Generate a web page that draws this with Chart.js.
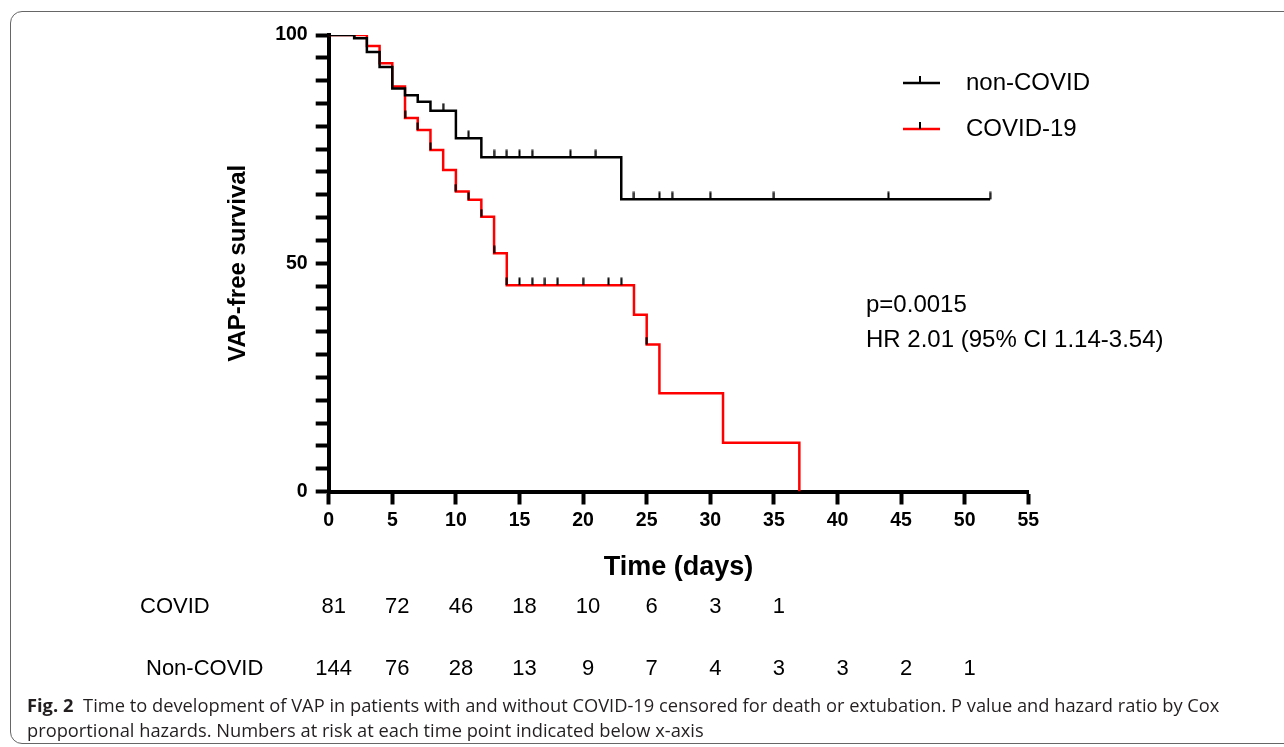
<!DOCTYPE html>
<html>
<head>
    <title>VAP-free survival</title>
    <script src="https://cdn.jsdelivr.net/npm/chart.js"></script>
    <style>
        html, body { margin: 0; padding: 0; background: #fff; }
        body { width: 1284px; height: 747px; position: relative; overflow: hidden; }
        .frame {
            position: absolute; left: 10px; top: 11px; width: 1300px; height: 733px;
            border: 1.3px solid #666; border-radius: 12px; box-sizing: border-box;
        }
        .wrap { position: absolute; left: 0; top: 0; width: 1284px; height: 747px; }
        .caption {
            position: absolute; left: 27px; top: 692px; white-space: nowrap;
            font-family: "Open Sans", sans-serif; font-size: 18.3px; line-height: 25px; color: #231f20;
        }
        .caption b { font-weight: 700; margin-right: 5px; }
    </style>
</head>
<body>
    <div class="frame"></div>
    <div class="wrap"><canvas id="chart"></canvas></div>
    <div class="caption"><b>Fig. 2</b> Time to development of VAP in patients with and without COVID-19 censored for death or extubation. P value and hazard ratio by Cox<br>proportional hazards. Numbers at risk at each time point indicated below x-axis</div>

    <script>
        // curves (Kaplan-Meier steps): day of event, survival after it
        var nonCovidDays = [0, 2, 3, 4, 5, 6, 7, 8, 10, 12, 23, 52];
        var nonCovidSurv = [100, 99.3, 96.3, 93.0, 88.3, 86.8, 85.4, 83.4, 77.4, 73.2, 64.0, 64.0];
        var nonCovidCensor = [2, 9, 11, 13, 14, 15, 16, 19, 21, 24, 26, 27, 30, 35, 44, 52];

        var covidDays = [0, 3, 4, 5, 6, 7, 8, 9, 10, 11, 12, 13, 14, 24, 25, 26, 31, 37];
        var covidSurv = [100, 97.6, 93.8, 88.7, 81.8, 79.2, 74.8, 70.4, 65.7, 63.9, 60.2, 52.2, 45.2, 38.7, 32.2, 21.5, 10.7, 0];
        var covidCensor = [6, 7, 8, 10, 11, 12, 13, 14, 15, 16, 17, 18, 20, 22, 23, 25];

        var seriesLabels = ['non-COVID', 'COVID-19'];

        // numbers at risk
        var riskDays = [0, 5, 10, 15, 20, 25, 30, 35, 40, 45, 50];
        var riskLabels = ['COVID', 'Non-COVID'];
        var covidAtRisk = [81, 72, 46, 18, 10, 6, 3, 1];
        var nonCovidAtRisk = [144, 76, 28, 13, 9, 7, 4, 3, 3, 2, 1];

        var statLines = ['p=0.0015', 'HR 2.01 (95% CI 1.14-3.54)'];

        var FONT = '"Liberation Sans", Arial, sans-serif';

        function toPoints(days, vals) {
            return days.map(function(d, i) { return { x: d, y: vals[i] }; });
        }

        // survival value at a given day from the step curve
        function survAt(days, vals, day) {
            var v = vals[0];
            for (var i = 0; i < days.length; i++) {
                if (days[i] <= day) v = vals[i];
            }
            return v;
        }

        function censorPoints(censor, days, vals) {
            return censor.map(function(d) { return { x: d, y: survAt(days, vals, d) }; });
        }

        // upward tick mark used for censored patients
        function makeTick() {
            var c = document.createElement('canvas');
            c.width = 3; c.height = 16;
            var g = c.getContext('2d');
            g.fillStyle = '#000';
            g.fillRect(0.5, 0.5, 2, 7.5);
            return c;
        }
        var tickImg = makeTick();

        var extras = {
            id: 'extras',
            afterDraw: function(chart) {
                var ctx = chart.ctx;
                var xs = chart.scales.x;
                ctx.save();

                // legend
                var legendY = [83, 129];
                var colors = ['#000000', '#ff0000'];
                for (var i = 0; i < 2; i++) {
                    var y = legendY[i];
                    ctx.strokeStyle = colors[i];
                    ctx.lineWidth = 2.5;
                    ctx.beginPath();
                    ctx.moveTo(903, y); ctx.lineTo(940, y);
                    ctx.stroke();
                    ctx.strokeStyle = '#000';
                    ctx.lineWidth = 2;
                    ctx.beginPath();
                    ctx.moveTo(920, y - 7); ctx.lineTo(920, y);
                    ctx.stroke();
                    ctx.fillStyle = '#000';
                    ctx.font = '24px ' + FONT;
                    ctx.textAlign = 'left';
                    ctx.textBaseline = 'middle';
                    ctx.fillText(seriesLabels[i], 966, y);
                }

                // p value and hazard ratio
                ctx.font = '24px ' + FONT;
                ctx.fillText(statLines[0], 866, 305);
                ctx.fillText(statLines[1], 866, 340);

                // numbers at risk
                ctx.font = '22px ' + FONT;
                ctx.fillText(riskLabels[0], 140, 607);
                ctx.fillText(riskLabels[1], 146, 669);
                ctx.textAlign = 'center';
                covidAtRisk.forEach(function(n, i) {
                    ctx.fillText(String(n), xs.getPixelForValue(riskDays[i]) + 5, 607);
                });
                nonCovidAtRisk.forEach(function(n, i) {
                    ctx.fillText(String(n), xs.getPixelForValue(riskDays[i]) + 5, 669);
                });
                ctx.restore();
            }
        };

        var ctx = document.getElementById('chart').getContext('2d');
        var chart = new Chart(ctx, {
            type: 'line',
            data: {
                datasets: [
                    {
                        label: 'non-COVID censored',
                        data: censorPoints(nonCovidCensor, nonCovidDays, nonCovidSurv),
                        showLine: false,
                        pointStyle: tickImg,
                        pointRadius: 8,
                        order: -1
                    },
                    {
                        label: 'COVID-19 censored',
                        data: censorPoints(covidCensor, covidDays, covidSurv),
                        showLine: false,
                        pointStyle: tickImg,
                        pointRadius: 8,
                        order: -1
                    },
                    {
                        label: seriesLabels[0],
                        data: toPoints(nonCovidDays, nonCovidSurv),
                        stepped: 'before',
                        borderColor: '#000000',
                        borderWidth: 2.5,
                        pointRadius: 0,
                        fill: false,
                        order: 0
                    },
                    {
                        label: seriesLabels[1],
                        data: toPoints(covidDays, covidSurv),
                        stepped: 'before',
                        borderColor: '#ff0000',
                        borderWidth: 2.5,
                        pointRadius: 0,
                        fill: false,
                        order: 1
                    }
                ]
            },
            options: {
                responsive: true,
                maintainAspectRatio: false,
                animation: false,
                events: [],
                layout: {
                    padding: { left: 224, right: 255.7, top: 35, bottom: 162.8 }
                },
                plugins: {
                    legend: { display: false },
                    tooltip: { enabled: false }
                },
                scales: {
                    x: {
                        type: 'linear',
                        min: 0,
                        max: 55,
                        afterFit: function(s) { s.height = 92.7; },
                        ticks: {
                            stepSize: 5,
                            autoSkip: false,
                            maxRotation: 0,
                            padding: 4,
                            color: '#000',
                            font: { family: FONT, size: 19.5, weight: 'bold' }
                        },
                        grid: {
                            drawOnChartArea: false,
                            tickLength: 13,
                            tickWidth: 4,
                            tickColor: '#000'
                        },
                        border: { color: '#000', width: 4 },
                        title: {
                            display: true,
                            text: 'Time (days)',
                            color: '#000',
                            padding: 0,
                            font: { family: FONT, size: 27, weight: 'bold' }
                        }
                    },
                    y: {
                        min: 0,
                        max: 100,
                        afterFit: function(s) { s.width = 104.7; },
                        ticks: {
                            stepSize: 5,
                            autoSkip: false,
                            padding: 8,
                            color: '#000',
                            font: { family: FONT, size: 19.5, weight: 'bold' },
                            callback: function(v) { return v % 50 === 0 ? v : ''; }
                        },
                        grid: {
                            drawOnChartArea: false,
                            tickLength: 13,
                            tickWidth: 4,
                            tickColor: '#000'
                        },
                        border: { color: '#000', width: 4 },
                        title: {
                            display: true,
                            text: 'VAP-free survival',
                            color: '#000',
                            padding: 0,
                            font: { family: FONT, size: 24, weight: 'bold' }
                        }
                    }
                }
            },
            plugins: [extras]
        });
    </script>
</body>
</html>
